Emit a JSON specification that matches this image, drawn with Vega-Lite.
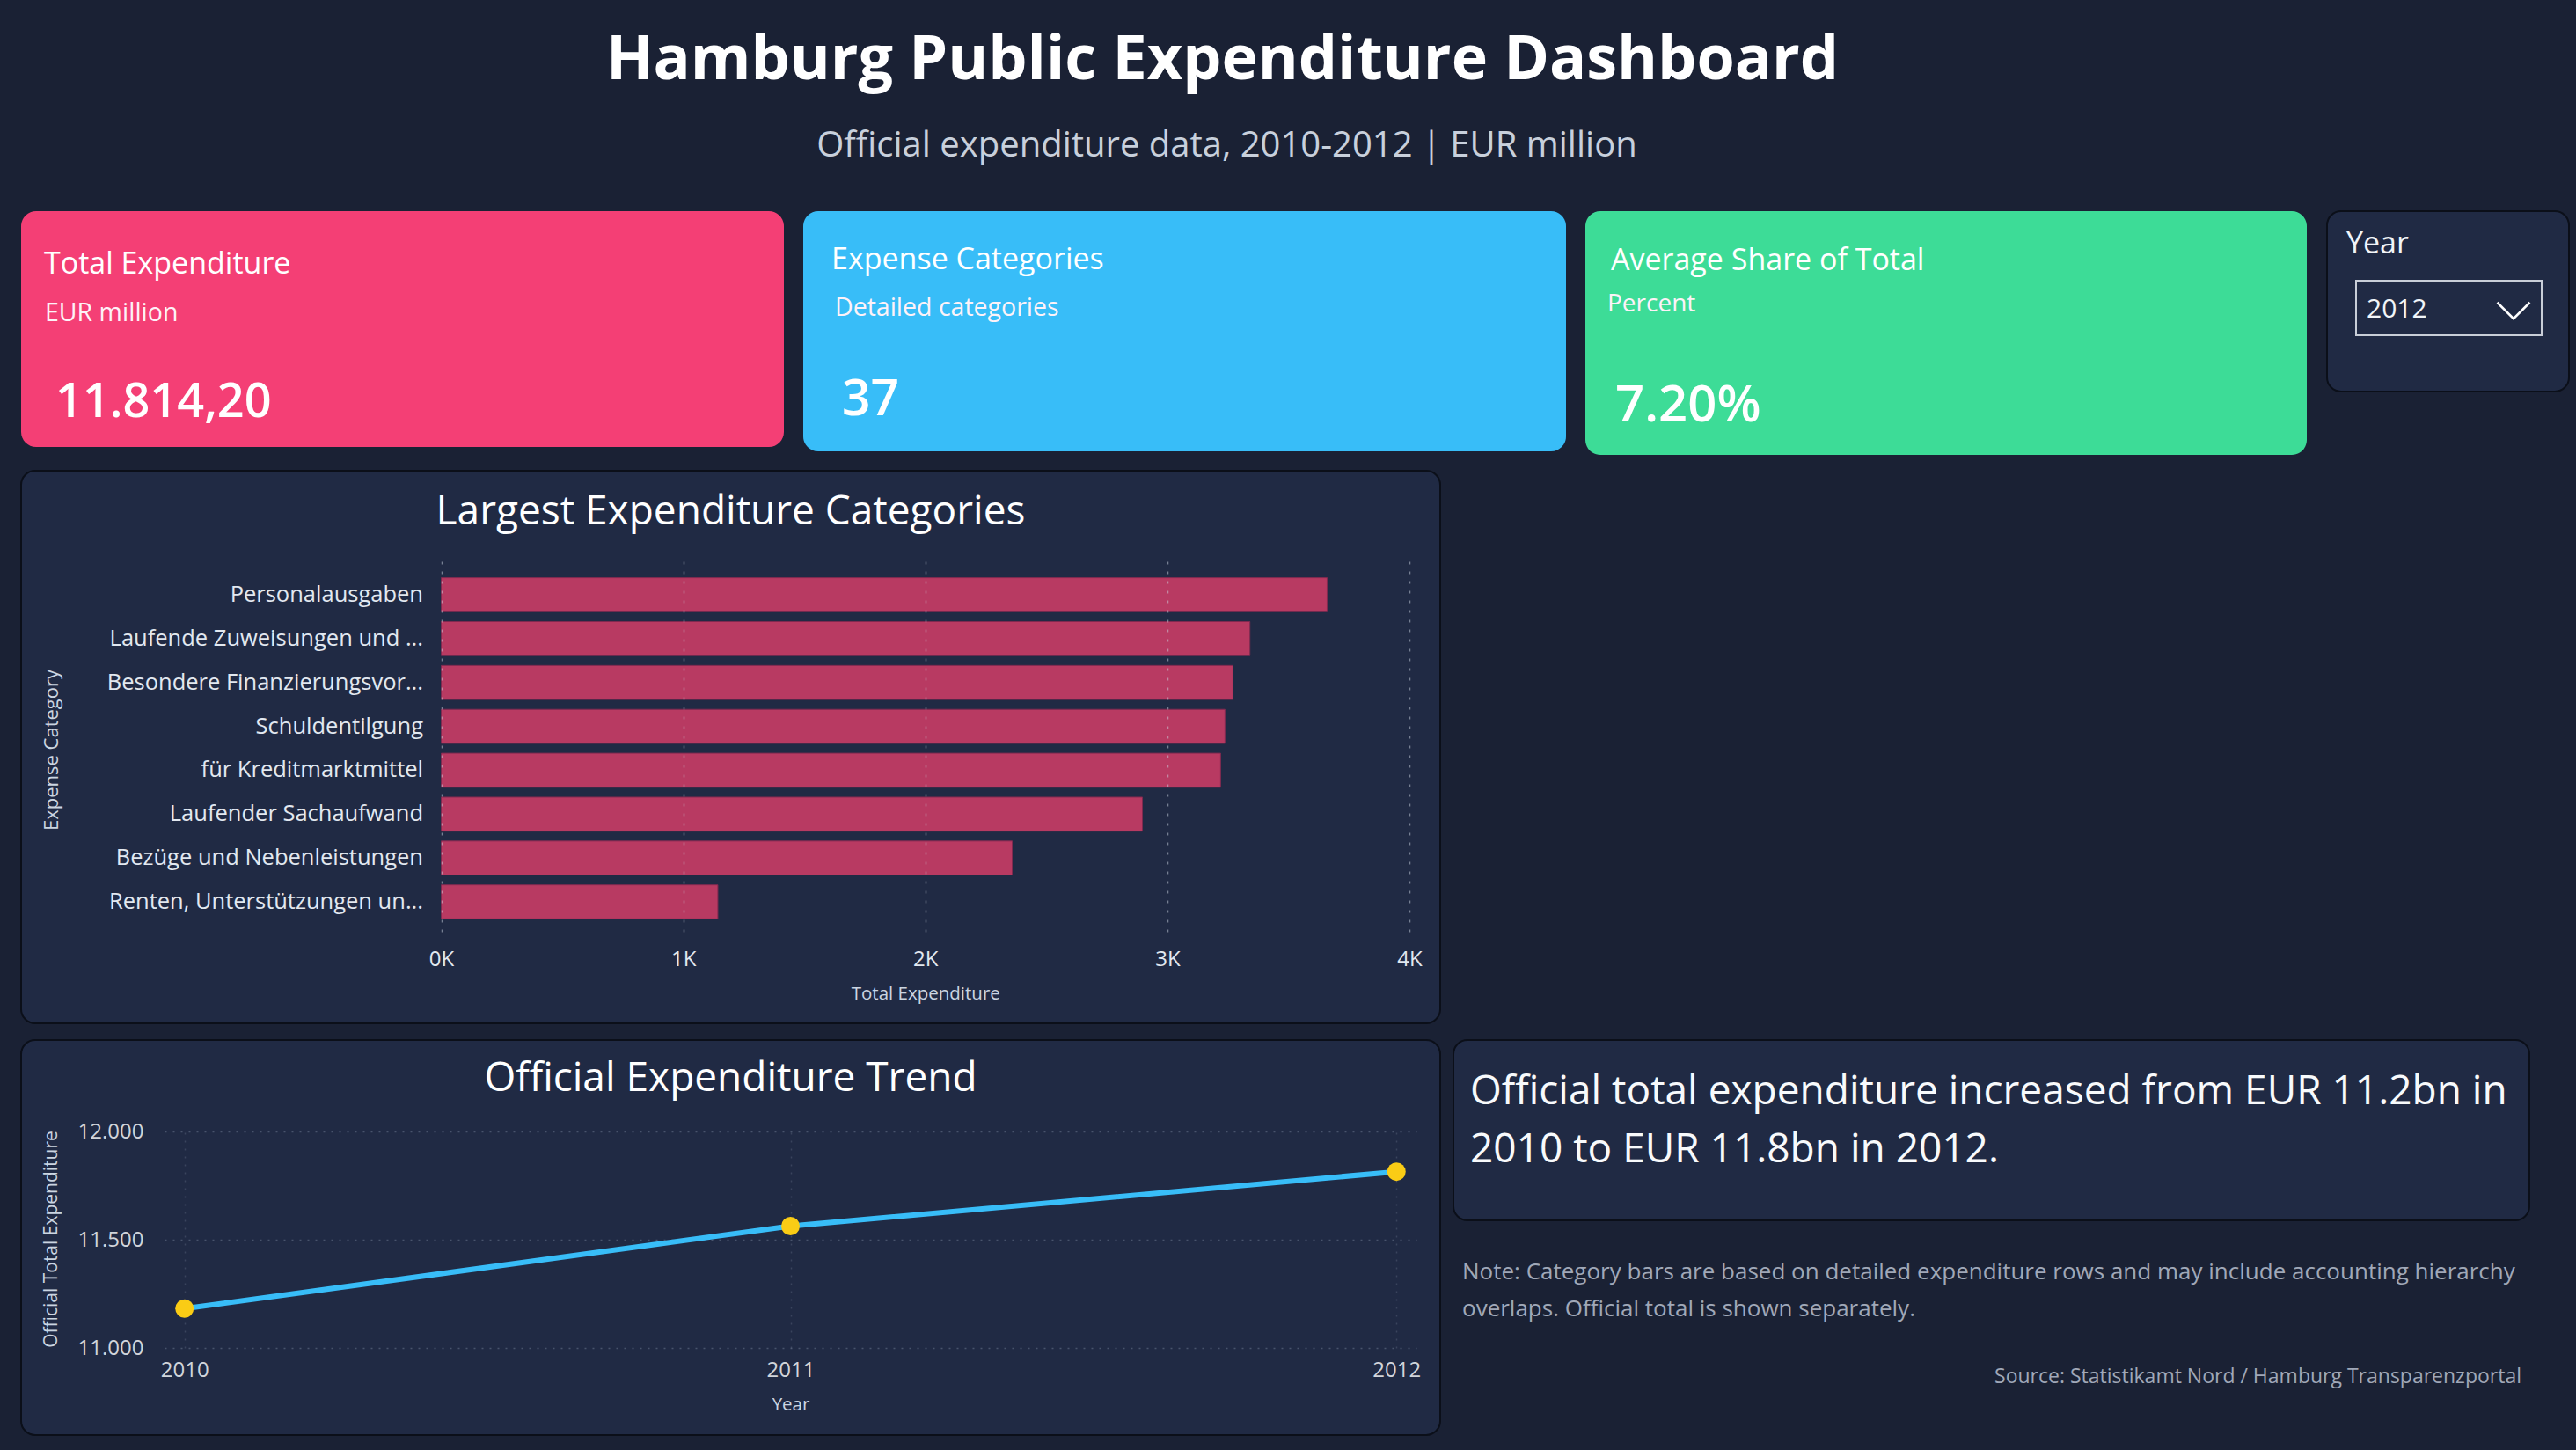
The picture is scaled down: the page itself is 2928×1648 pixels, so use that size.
{
  "$schema": "https://vega.github.io/schema/vega-lite/v6.json",
  "background": "#1a2134",
  "padding": {"left": 23, "top": 0, "right": 8, "bottom": 20},
  "config": {
    "font": "Open Sans",
    "view": {"stroke": null},
    "locale": {"number": {"decimal": ",", "thousands": ".", "grouping": [3], "currency": ["", " €"]}},
    "axis": {"labelFont": "Open Sans", "titleFont": "Open Sans", "titleFontWeight": "normal"}
  },
  "spacing": 17,
  "vconcat": [
    {
      "width": 2895,
      "height": 222,
      "data": {"values": [{"title": "Hamburg Public Expenditure Dashboard", "subtitle": "Official expenditure data, 2010-2012 | EUR million"}]},
      "layer": [
        {"mark": {"type": "text", "fontSize": 70, "fontWeight": "bold", "color": "#ffffff", "baseline": "alphabetic", "dx": -82, "y": 90}, "encoding": {"text": {"field": "title"}}},
        {"mark": {"type": "text", "fontSize": 40, "color": "#c8d0dc", "baseline": "alphabetic", "dx": -77, "y": 178}, "encoding": {"text": {"field": "subtitle"}}}
      ]
    },
    {
      "spacing": 22,
      "hconcat": [
        {
          "width": 867, "height": 268,
          "view": {"fill": "#f43f75", "cornerRadius": 17, "stroke": null},
          "data": {"values": [{"label": "Total Expenditure", "unit": "EUR million", "value": "11.814,20"}]},
          "layer": [
            {"mark": {"type": "text", "align": "left", "baseline": "alphabetic", "x": 26, "y": 71, "fontSize": 34, "color": "#ffffff"}, "encoding": {"text": {"field": "label"}}},
            {"mark": {"type": "text", "align": "left", "baseline": "alphabetic", "x": 27, "y": 125, "fontSize": 28.5, "color": "#fdf2f8"}, "encoding": {"text": {"field": "unit"}}},
            {"mark": {"type": "text", "align": "left", "baseline": "alphabetic", "x": 39, "y": 234, "fontSize": 54, "fontWeight": 600, "color": "#ffffff"}, "encoding": {"text": {"field": "value"}}}
          ]
        },
        {
          "width": 867, "height": 273,
          "view": {"fill": "#38bdf8", "cornerRadius": 17, "stroke": null},
          "data": {"values": [{"label": "Expense Categories", "unit": "Detailed categories", "value": "37"}]},
          "layer": [
            {"mark": {"type": "text", "align": "left", "baseline": "alphabetic", "x": 32, "y": 66, "fontSize": 34, "color": "#ffffff"}, "encoding": {"text": {"field": "label"}}},
            {"mark": {"type": "text", "align": "left", "baseline": "alphabetic", "x": 36, "y": 119, "fontSize": 28.5, "color": "#fdf2f8"}, "encoding": {"text": {"field": "unit"}}},
            {"mark": {"type": "text", "align": "left", "baseline": "alphabetic", "x": 44, "y": 232, "fontSize": 57, "fontWeight": 600, "color": "#ffffff"}, "encoding": {"text": {"field": "value"}}}
          ]
        },
        {
          "width": 820, "height": 277,
          "view": {"fill": "#3ddc97", "cornerRadius": 17, "stroke": null},
          "data": {"values": [{"label": "Average Share of Total", "unit": "Percent", "value": "7.20%"}]},
          "layer": [
            {"mark": {"type": "text", "align": "left", "baseline": "alphabetic", "x": 29, "y": 67, "fontSize": 34, "color": "#ffffff"}, "encoding": {"text": {"field": "label"}}},
            {"mark": {"type": "text", "align": "left", "baseline": "alphabetic", "x": 25, "y": 114, "fontSize": 28, "color": "#fdf2f8"}, "encoding": {"text": {"field": "unit"}}},
            {"mark": {"type": "text", "align": "left", "baseline": "alphabetic", "x": 34, "y": 239, "fontSize": 58, "fontWeight": 600, "color": "#ffffff"}, "encoding": {"text": {"field": "value"}}}
          ]
        },
        {
          "width": 275, "height": 205,
          "view": {"fill": "#202a44", "cornerRadius": 16, "stroke": "#0b0f19", "strokeWidth": 2},
          "data": {"values": [{"slicer": "Year", "selected": "2012"}]},
          "layer": [
            {"mark": {"type": "rect", "x": 33, "x2": 244, "y": 79, "y2": 141, "fill": "transparent", "stroke": "#c9ced8", "strokeWidth": 2}, "encoding": {}},
            {"mark": {"type": "text", "align": "left", "baseline": "alphabetic", "x": 22, "y": 48, "fontSize": 34, "color": "#f1f5f9"}, "encoding": {"text": {"field": "slicer"}}},
            {"mark": {"type": "text", "align": "left", "baseline": "alphabetic", "x": 45, "y": 121, "fontSize": 30, "color": "#f1f5f9"}, "encoding": {"text": {"field": "selected"}}},
            {"mark": {"type": "point", "shape": "M-1,-0.5L0,0.5L1,-0.5", "x": 212, "y": 113, "size": 1369, "filled": false, "stroke": "#ffffff", "strokeWidth": 2.5, "opacity": 1}, "encoding": {}}
          ]
        }
      ]
    },
    {
      "width": 1613, "height": 628,
      "view": {"fill": "#202a44", "cornerRadius": 16, "stroke": "#0b0f19", "strokeWidth": 2},
      "layer": [
        {
          "data": {"values": [
            {"category": "Personalausgaben", "total": 3660},
            {"category": "Laufende Zuweisungen und ...", "total": 3341},
            {"category": "Besondere Finanzierungsvor...", "total": 3271},
            {"category": "Schuldentilgung", "total": 3238},
            {"category": "für Kreditmarktmittel", "total": 3220},
            {"category": "Laufender Sachaufwand", "total": 2897},
            {"category": "Bezüge und Nebenleistungen", "total": 2359},
            {"category": "Renten, Unterstützungen un...", "total": 1143}
          ]},
          "mark": {"type": "bar", "color": "#b83a62", "stroke": "#7f2a50", "strokeWidth": 1},
          "encoding": {
            "y": {
              "field": "category", "type": "nominal", "sort": "-x",
              "scale": {"range": [103, 528], "paddingInner": 0.224, "paddingOuter": 0.373},
              "axis": {"title": "Expense Category", "orient": "left", "offset": -477.5, "domain": false, "ticks": false, "tickSize": 0, "labelPadding": 21, "labelFontSize": 25.5, "labelColor": "#e2e8f0", "labelLimit": 470, "titleX": -443.5, "titleY": 317, "titleFontSize": 22, "titleColor": "#cbd5e1", "titleAngle": -90, "titleBaseline": "middle", "titleAlign": "center", "grid": false}
            },
            "x": {
              "field": "total", "type": "quantitative",
              "scale": {"domain": [0, 4000], "range": [477.5, 1578], "nice": false},
              "axis": {"title": "Total Expenditure", "orient": "top", "offset": -580, "values": [0, 1000, 2000, 3000, 4000], "labelExpr": "datum.value / 1000 + 'K'", "labelFlush": false, "domain": false, "ticks": false, "tickSize": 0, "labelPadding": 25, "labelBaseline": "middle", "labelFontSize": 24, "labelColor": "#e2e8f0", "titleY": 14, "titleBaseline": "middle", "titleFontSize": 20.5, "titleColor": "#cbd5e1", "grid": true, "gridColor": "#cbd5e1", "gridOpacity": 0.5, "gridDash": [3, 8], "gridWidth": 1.5, "zindex": 1}
            }
          }
        },
        {
          "data": {"values": [{"panel": "Largest Expenditure Categories"}]},
          "mark": {"type": "text", "y": 61, "baseline": "alphabetic", "fontSize": 46, "color": "#ffffff"},
          "encoding": {"text": {"field": "panel"}}
        }
      ]
    },
    {
      "spacing": 13,
      "hconcat": [
        {
          "width": 1613, "height": 449,
          "view": {"fill": "#202a44", "cornerRadius": 16, "stroke": "#0b0f19", "strokeWidth": 2},
          "layer": [
            {
              "data": {"values": [
                {"year": "2010", "official_total": 11182},
                {"year": "2011", "official_total": 11563},
                {"year": "2012", "official_total": 11814.2}
              ]},
              "encoding": {
                "x": {
                  "field": "year", "type": "ordinal",
                  "scale": {"type": "point", "range": [163, 1586], "padding": 0.033},
                  "axis": {"title": "Year", "orient": "top", "offset": -400, "labelAngle": 0, "domain": false, "ticks": false, "tickSize": 0, "labelPadding": 25, "labelBaseline": "middle", "labelFontSize": 24, "labelColor": "#d1d5db", "titleY": 14, "titleBaseline": "middle", "titleFontSize": 20.5, "titleColor": "#cbd5e1", "grid": true, "gridColor": "#94a3b8", "gridOpacity": 0.22, "gridDash": [2, 7], "gridWidth": 1.5}
                },
                "y": {
                  "field": "official_total", "type": "quantitative",
                  "scale": {"domain": [11000, 12000], "range": [350, 104], "nice": false, "zero": false},
                  "axis": {"title": "Official Total Expenditure", "orient": "left", "offset": -163, "values": [11000, 11500, 12000], "format": ",.0f", "domain": false, "ticks": false, "tickSize": 0, "labelPadding": 24, "labelFontSize": 24, "labelColor": "#d1d5db", "titleX": -129, "titleY": 226, "titleFontSize": 21, "titleColor": "#cbd5e1", "titleAngle": -90, "titleBaseline": "middle", "titleAlign": "center", "grid": true, "gridColor": "#94a3b8", "gridOpacity": 0.35, "gridDash": [2, 7], "gridWidth": 1.5}
                }
              },
              "layer": [
                {"mark": {"type": "line", "color": "#38bdf8", "strokeWidth": 6}},
                {"mark": {"type": "point", "filled": true, "color": "#facc15", "size": 440, "opacity": 1}}
              ]
            },
            {
              "data": {"values": [{"panel": "Official Expenditure Trend"}]},
              "mark": {"type": "text", "y": 58, "baseline": "alphabetic", "fontSize": 46, "color": "#ffffff"},
              "encoding": {"text": {"field": "panel"}}
            }
          ]
        },
        {
          "spacing": 17,
          "vconcat": [
            {
              "width": 1223, "height": 205,
              "view": {"fill": "#202a44", "cornerRadius": 16, "stroke": "#0b0f19", "strokeWidth": 2},
              "data": {"values": [{"insight": "Official total expenditure increased from EUR 11.2bn in\n2010 to EUR 11.8bn in 2012."}]},
              "mark": {"type": "text", "align": "left", "baseline": "alphabetic", "x": 19, "y": 73, "fontSize": 46, "lineBreak": "\n", "lineHeight": 66, "color": "#f8fafc"},
              "encoding": {"text": {"field": "insight"}}
            },
            {
              "width": 1223, "height": 225,
              "data": {"values": [{"note": "Note: Category bars are based on detailed expenditure rows and may include accounting hierarchy\noverlaps. Official total is shown separately.", "source": "Source: Statistikamt Nord / Hamburg Transparenzportal"}]},
              "layer": [
                {"mark": {"type": "text", "align": "left", "baseline": "alphabetic", "x": 10, "y": 49, "fontSize": 26, "lineBreak": "\n", "lineHeight": 42, "color": "#a0a8b8"}, "encoding": {"text": {"field": "note"}}},
                {"mark": {"type": "text", "align": "right", "baseline": "alphabetic", "x": 1214, "y": 167, "fontSize": 23, "color": "#a0a8b8"}, "encoding": {"text": {"field": "source"}}}
              ]
            }
          ]
        }
      ]
    }
  ]
}
